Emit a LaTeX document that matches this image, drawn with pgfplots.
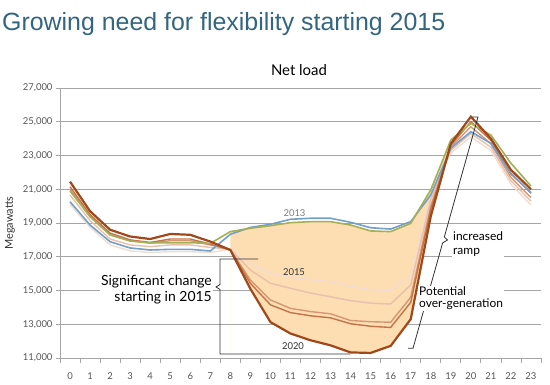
\documentclass[border=0pt]{standalone}
\usepackage{fontspec}
\setmainfont{Lato}
\newfontfamily\titlefont{Liberation Sans}
\usepackage{pgfplots}
\pgfplotsset{compat=1.18}
\definecolor{titleblue}{RGB}{50,102,128}
\definecolor{gridgray}{RGB}{165,165,165}
\definecolor{ticktext}{RGB}{85,85,85}
\definecolor{peach}{RGB}{253,221,178}
\definecolor{cblue}{RGB}{115,160,200}
\definecolor{cgreen}{RGB}{165,175,85}
\definecolor{cl1}{RGB}{243,220,208}
\definecolor{cl2}{RGB}{232,192,172}
\definecolor{cl3}{RGB}{215,150,115}
\definecolor{cl4}{RGB}{196,115,72}
\definecolor{cdark}{RGB}{160,72,25}
\definecolor{annot}{RGB}{50,50,50}
\definecolor{lab13}{RGB}{125,125,125}
\begin{document}
\begin{tikzpicture}
\useasboundingbox (0bp,0bp) rectangle (550bp,385bp);
\begin{axis}[
  at={(60bp,27bp)}, anchor=south west,
  scale only axis, width=481bp, height=270bp,
  xmin=-0.5, xmax=23.5, ymin=11000, ymax=27000,
  axis lines*=left,
  axis line style={draw=gridgray, line width=0.8bp},
  xtick={0,...,23},
  minor xtick={-0.5,0.5,...,23.5},
  ytick={11000,13000,...,27000},
  scaled y ticks=false,
  ymajorgrids,
  grid style={draw=gridgray, line width=0.8bp},
  tick align=outside,
  major tick length=4bp, minor tick length=5bp,
  major x tick style={draw=none},
  minor x tick style={draw=gridgray, line width=0.8bp},
  major y tick style={draw=gridgray, line width=0.8bp},
  tick label style={font=\fontsize{9.5}{11}\selectfont, text=ticktext},
  xticklabel style={yshift=-7bp},
  yticklabel style={/pgf/number format/fixed, /pgf/number format/1000 sep={,}},
  /pgf/number format/assume math mode=true,
]
% shaded region between 2013 and 2020 (hours 8-19)
\addplot[fill=peach, draw=none] coordinates {
(8,18490) (9,18690) (10,18840) (11,19020) (12,19080) (13,19080) (14,18880) (15,18530)
(16,18490) (17,18980) (18,20960) (19,23920)
(19,23700) (18,19400) (17,13300) (16,11720) (15,11300) (14,11330) (13,11750) (12,12050)
(11,12450) (10,13130) (9,15100) (8,17400)} \closedcycle;
% 2014 (lightest)
\addplot[cl1, line width=1.4bp] coordinates {
(0,20100) (1,18750) (2,17700) (3,17350) (4,17250) (5,17300) (6,17300) (7,17250)
(8,17450) (9,16610) (10,16020) (11,15780) (12,15650) (13,15520) (14,15250) (15,15060)
(16,14980) (17,15890) (18,20700) (19,23150) (20,24100) (21,23300) (22,21300) (23,20070)};
% 2015/2016
\addplot[cl2, line width=1.4bp] coordinates {
(0,20650) (1,19150) (2,18050) (3,17700) (4,17600) (5,17700) (6,17700) (7,17550)
(8,17450) (9,16210) (10,15430) (11,15130) (12,14850) (13,14630) (14,14400) (15,14250)
(16,14200) (17,15330) (18,20400) (19,23300) (20,24300) (21,23500) (22,21500) (23,20300)};
% 2017/2018
\addplot[cl3, line width=1.4bp] coordinates {
(0,21000) (1,19400) (2,18300) (3,17950) (4,17800) (5,17950) (6,17950) (7,17700)
(8,17420) (9,15620) (10,14440) (11,13940) (12,13750) (13,13620) (14,13220) (15,13150)
(16,13120) (17,14600) (18,20000) (19,23500) (20,24700) (21,23700) (22,21700) (23,20500)};
% 2019
\addplot[cl4, line width=1.4bp] coordinates {
(0,21150) (1,19500) (2,18400) (3,18000) (4,17850) (5,18050) (6,18050) (7,17750)
(8,17400) (9,15430) (10,14150) (11,13690) (12,13500) (13,13380) (14,13030) (15,12880)
(16,12810) (17,14300) (18,19800) (19,23600) (20,25000) (21,23900) (22,21900) (23,20800)};
% 2012 actual
\addplot[cblue, line width=1.6bp] coordinates {
(0,20260) (1,18880) (2,17890) (3,17520) (4,17400) (5,17440) (6,17440) (7,17340)
(8,18330) (9,18740) (10,18920) (11,19220) (12,19280) (13,19280) (14,19040) (15,18720)
(16,18640) (17,19080) (18,20660) (19,23430) (20,24410) (21,23720) (22,21950) (23,20760)};
% 2013 actual
\addplot[cgreen, line width=1.6bp] coordinates {
(0,20900) (1,19370) (2,18290) (3,17930) (4,17830) (5,17830) (6,17830) (7,17790)
(8,18490) (9,18690) (10,18840) (11,19020) (12,19080) (13,19080) (14,18880) (15,18530)
(16,18490) (17,18980) (18,20960) (19,23920) (20,24900) (21,24210) (22,22540) (23,21190)};
% 2020
\addplot[cdark, line width=2.2bp] coordinates {
(0,21450) (1,19700) (2,18600) (3,18200) (4,18050) (5,18350) (6,18300) (7,17900)
(8,17400) (9,15100) (10,13130) (11,12450) (12,12050) (13,11750) (14,11330) (15,11300)
(16,11720) (17,13300) (18,19400) (19,23700) (20,25300) (21,24000) (22,22150) (23,21000)};
\end{axis}
% title
\node[anchor=base west, inner sep=0pt, text=titleblue, font=\titlefont\fontsize{25}{29}\selectfont] at (2bp,354bp) {Growing need for flexibility starting 2015};
\node[font=\fontsize{15}{18}\selectfont] at (299bp,315bp) {Net load};
\node[rotate=90, font=\fontsize{11}{13}\selectfont, text=annot] at (10bp,162bp) {Megawatts};
% series labels
\node[font=\fontsize{9.5}{11}\selectfont, text=lab13] at (294.5bp,172bp) {2013};
\node[font=\fontsize{9.5}{11}\selectfont, text=annot] at (294bp,113bp) {2015};
\node[font=\fontsize{9.5}{11}\selectfont, text=annot] at (293bp,39bp) {2020};
% significant change bracket
\draw[annot, line width=0.8bp] (258bp,126bp) -- (220bp,126bp) -- (220bp,100.5bp) -- (216bp,98bp) -- (220bp,95.5bp) -- (220bp,31bp) -- (350bp,31bp);
\node[anchor=east, align=right, fill=white, inner sep=1bp, font=\fontsize{14}{16}\selectfont] at (213bp,95bp) {Significant change\\starting in 2015};
% ramp bracket
\draw[annot, line width=0.8bp] (472bp,268bp) -- (478bp,268bp) -- (444.3bp,148bp) -- (447.5bp,145bp) -- (442.6bp,142bp) -- (413bp,36.7bp) -- (408bp,36.7bp);
\node[anchor=west, align=left, fill=white, inner sep=1bp, font=\fontsize{12}{14}\selectfont] at (452bp,141.3bp) {increased\\ramp};
\node[anchor=west, align=left, fill=white, inner sep=1bp, font=\fontsize{12}{11.5}\selectfont] at (418bp,86.7bp) {Potential\\over-generation};
\end{tikzpicture}
\end{document}
